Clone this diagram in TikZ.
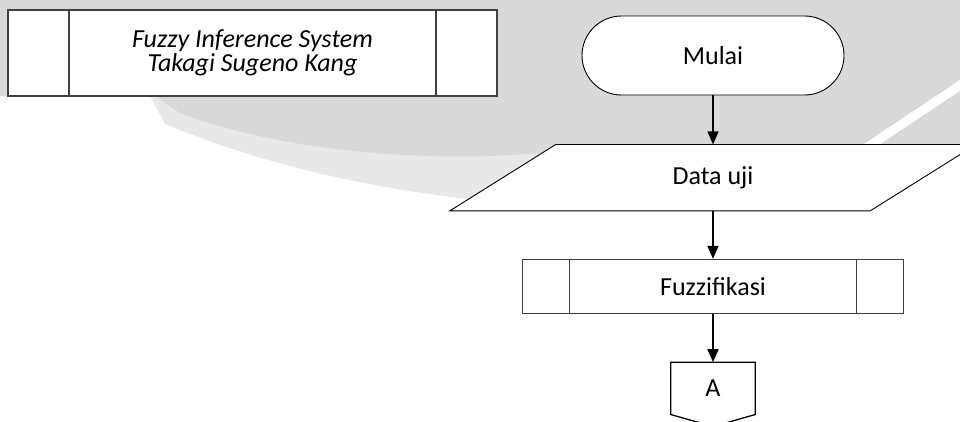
\documentclass[tikz,border=0pt]{standalone}
\usepackage{fontspec}
\setmainfont{Carlito}
\usetikzlibrary{arrows.meta, positioning}
\definecolor{wmgrey}{RGB}{217, 217, 217}
\definecolor{wmlight}{RGB}{232, 232, 232}
\definecolor{edgegrey}{RGB}{64, 64, 64}

\begin{document}
\begin{tikzpicture}[
    x=1pt, y=-1pt,
    font=\fontsize{26}{24}\selectfont,
    terminal/.style={rectangle, draw, fill=white, rounded corners=39.5pt,
        minimum width=262pt, minimum height=79pt, line width=0.9pt},
    io/.style={rectangle, inner sep=0pt, minimum width=420pt, minimum height=66pt},
    subproc/.style={rectangle, draw=edgegrey, fill=white, line width=1.3pt,
        inner sep=0pt, path picture={
            \draw[edgegrey, line width=1.3pt]
                ([xshift=#1]path picture bounding box.north west) --
                ([xshift=#1]path picture bounding box.south west)
                ([xshift=-#1]path picture bounding box.north east) --
                ([xshift=-#1]path picture bounding box.south east);}},
    offpage/.style={rectangle, inner sep=0pt, minimum width=84pt, minimum height=52pt},
    arrow/.style={line width=1.6pt, -{Triangle[width=11pt, length=13pt]}}
]
    \useasboundingbox (0,0) rectangle (960,421);

    % Watermark background
    \fill[wmlight] (150,96) -- (165,124) .. controls (280,172) and (420,200) .. (560,206) -- (600,140) -- cycle;
    \fill[wmgrey] (0,0) -- (960,0) -- (960,155) -- (600,146) .. controls (430,172) and (260,145) .. (180,113) -- (155,96) -- (0,96) -- cycle;
    \draw[white, line width=9pt] (968,80) -- (866,148);

    % Sub-process title
    \node[subproc=61pt, minimum width=489pt, minimum height=86pt, align=center,
        font=\fontsize{26}{24}\selectfont\itshape] (fis) at (252.5,53)
        {Fuzzy Inference System\\Takagi Sugeno Kang};

    % Main flow
    \node[terminal] (mulai) at (713,55.5) {Mulai};
    \node[io, below=49pt of mulai] (datauji) {};
    \fill[white, draw=black, line width=0.9pt]
        ([xshift=53pt]datauji.north west) -- ([xshift=53pt]datauji.north east)
        -- ([xshift=-53pt]datauji.south east) -- ([xshift=-53pt]datauji.south west) -- cycle;
    \node (dataujilabel) at (datauji) {Data uji};
    \node[subproc=47pt, minimum width=381pt, minimum height=54pt, below=48pt of datauji] (fuzz) {Fuzzifikasi};
    \node[offpage, below=48pt of fuzz] (conA) {A};
    \draw[line width=1.3pt] (conA.north west) -- (conA.north east) -- (conA.south east)
        -- ([yshift=-12pt]conA.south) -- (conA.south west) -- cycle;

    % Arrows
    \draw[arrow] (mulai) -- (datauji);
    \draw[arrow] (datauji) -- (fuzz);
    \draw[arrow] (fuzz) -- (conA);
\end{tikzpicture}
\end{document}
